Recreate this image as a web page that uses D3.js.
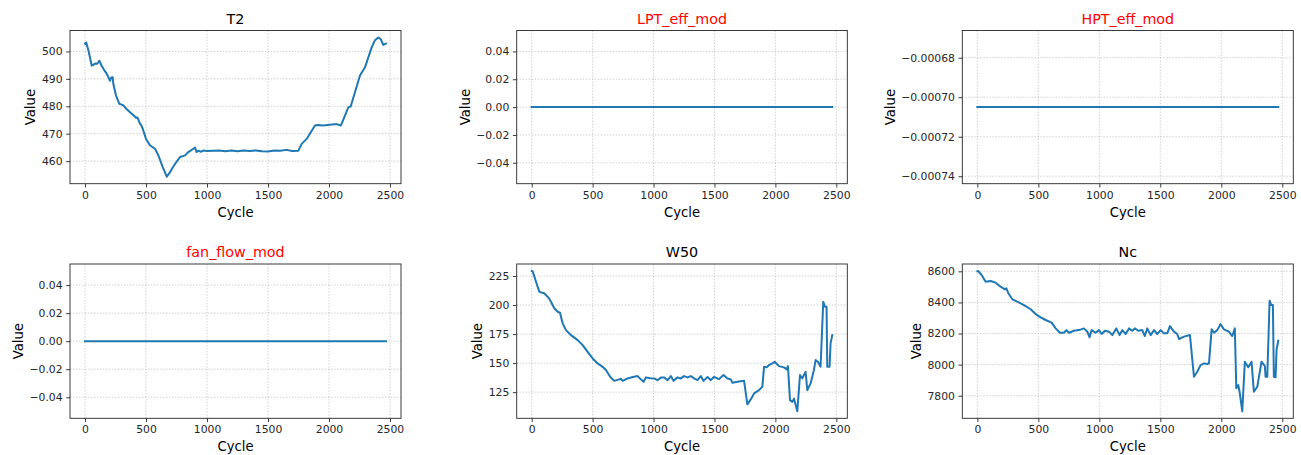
<!DOCTYPE html>
<html>
<head>
<meta charset="utf-8">
<script src="https://cdn.jsdelivr.net/npm/d3@7"></script>
<style>
  html, body { margin: 0; padding: 0; background: #ffffff; }
  svg { display: block; }
  text { font-family: "DejaVu Sans", sans-serif; }
</style>
</head>
<body>
<script>
// ---------------- DATA ----------------
const xTicks = [0, 500, 1000, 1500, 2000, 2500];

const t2Cycle = [0,10,30,55,70,82,100,117,136,160,178,205,215,227,232,254,281,300,314,340,369,395,418,430,451,460,473,500,533,574,601,637,670,697,738,779,820,847,888,902,915,929,950,970,1000,1100,1150,1200,1250,1300,1350,1400,1450,1500,1550,1600,1650,1700,1749,1776,1817,1885,1912,1950,2008,2063,2098,2131,2158,2178,2213,2254,2295,2322,2350,2377,2404,2424,2445,2467];
const t2Value = [502.9,503.2,500,494.8,495.2,495.6,495.5,496.6,494.8,493,491.8,489.3,490.5,490.6,488.1,483.9,480.9,480.6,480.3,479,477.8,476.8,475.8,475.9,473.6,473.2,471.8,468.1,465.7,464.5,462.1,457.8,454.3,456,459,461.5,462.1,463.3,464.5,464.9,463.3,463.8,463.4,463.9,463.7,463.9,463.6,463.9,463.6,463.9,463.7,463.9,463.6,463.5,463.9,463.8,464.1,463.7,463.8,466.3,468.1,473,473.2,473,473.3,473.5,473,476.6,479.6,479.9,485.1,491.2,494.2,497.8,501.5,504.1,505.1,504.5,502.4,502.9];
const t2Ticks = [460, 470, 480, 490, 500];

const flatCycle = [0, 2467];
const lptValue = [0, 0];
const hptValue = [-0.000705, -0.000705];
const fanValue = [0, 0];
const smallTicks = [-0.04, -0.02, 0, 0.02, 0.04];
const hptTicks = [-0.00074, -0.00072, -0.00070, -0.00068];

const w50Cycle = [0,8,35,62,80,103,117,140,158,185,213,232,254,281,322,377,418,459,500,541,582,609,644,677,718,730,746,787,830,869,896,918,937,970,1005,1033,1060,1087,1115,1142,1164,1197,1224,1251,1279,1306,1333,1361,1388,1410,1443,1470,1497,1538,1574,1607,1634,1648,1689,1743,1770,1798,1825,1866,1893,1907,1929,1948,1975,1994,2029,2070,2093,2103,2120,2139,2153,2180,2202,2221,2248,2262,2289,2316,2330,2349,2371,2393,2407,2420,2426,2445,2453,2467];
const w50Value = [229.3,229,220.1,211.5,210.8,210.1,208.6,206,202.8,197.2,194.2,193.4,184.2,178.4,174.1,169.8,165.5,159.7,154,149.7,146.8,144,138.2,134.7,136,136.5,134.7,136.8,138,138.8,136,133.9,137.7,137,136.8,135.3,137.5,137.7,135.3,138.8,134.7,137.7,136.8,138.8,137.7,138.8,136.8,135.3,138.8,134.7,138,135.3,138.2,136.2,139.7,136.8,136,133,133.9,134.7,114.5,118.7,123.9,126.7,129.6,146.8,146.3,148.3,149.7,151.1,147.4,146.3,144.6,147.4,118.1,116.6,119.4,108.5,139.7,136.8,142.5,126.7,132.5,143.9,152.6,151.1,146.8,202.8,198.5,198.5,146.8,146.8,167,174.1];
const w50Ticks = [125, 150, 175, 200, 225];

const ncCycle = [0,8,35,68,109,150,191,226,238,254,287,328,382,437,478,519,560,609,642,677,710,730,751,792,833,874,902,920,937,970,997,1019,1046,1079,1107,1139,1166,1188,1216,1243,1270,1291,1319,1352,1373,1393,1421,1448,1475,1503,1530,1557,1579,1612,1639,1653,1694,1743,1776,1803,1830,1858,1885,1899,1921,1940,1967,1994,2021,2062,2090,2111,2123,2139,2150,2172,2193,2221,2248,2267,2295,2330,2357,2363,2377,2396,2410,2423,2431,2445,2453,2467];
const ncValue = [8600,8602,8576,8533,8538,8527,8501,8484,8491,8459,8420,8405,8383,8356,8325,8304,8287,8270,8233,8205,8205,8222,8205,8218,8222,8233,8212,8176,8222,8205,8222,8197,8218,8212,8190,8233,8190,8222,8197,8233,8218,8233,8218,8222,8184,8233,8190,8222,8197,8222,8201,8201,8248,8212,8197,8165,8180,8190,7922,7954,7997,8008,8004,8008,8227,8205,8222,8261,8227,8212,8184,8233,7848,7869,7826,7700,8019,7983,8019,7826,7858,8019,7991,7922,7922,8411,8383,8383,7922,7918,8094,8154];
const ncTicks = [7800, 8000, 8200, 8400, 8600];

const titles = ["T2", "LPT_eff_mod", "HPT_eff_mod", "fan_flow_mod", "W50", "Nc"];

// ---------------- LAYOUT ----------------
const W = 1301, H = 455;
const colLeft = [70, 516.7, 962.3];
const colWidth = [331, 330.6, 331];
const rowTop = [30.5, 264];
const rowHeight = [153.2, 154.3];

const panels = [
  { title: titles[0], red: false, x: t2Cycle, y: t2Value, ticks: t2Ticks, fmt: d3.format("d") },
  { title: titles[1], red: true, x: flatCycle, y: lptValue, ticks: smallTicks, fmt: d3.format(".2f") },
  { title: titles[2], red: true, x: flatCycle, y: hptValue, ticks: hptTicks, fmt: d3.format(".5f") },
  { title: titles[3], red: true, x: flatCycle, y: fanValue, ticks: smallTicks, fmt: d3.format(".2f") },
  { title: titles[4], red: false, x: w50Cycle, y: w50Value, ticks: w50Ticks, fmt: d3.format("d") },
  { title: titles[5], red: false, x: ncCycle, y: ncValue, ticks: ncTicks, fmt: d3.format("d") },
];

// matplotlib-like autoscale with 5% margins
function autoDomain(vals) {
  let lo = d3.min(vals), hi = d3.max(vals);
  if (lo === hi) {
    const e = lo === 0 ? 0.05 : 0.05 * Math.abs(lo);
    lo -= e; hi += e;
  }
  const pad = (hi - lo) * 0.05;
  return [lo - pad, hi + pad];
}

const svg = d3.select("body").append("svg").attr("width", W).attr("height", H);

const TICK_FS = 10.8, LABEL_FS = 13.2, TITLE_FS = 14.3;
const spineColor = "#262626";

panels.forEach((p, i) => {
  const col = i % 3, row = Math.floor(i / 3);
  const left = colLeft[col], top = rowTop[row], w = colWidth[col], h = rowHeight[row];
  const g = svg.append("g").attr("transform", `translate(${left},${top})`);

  const xs = d3.scaleLinear().domain(autoDomain(p.x)).range([0, w]);
  const ys = d3.scaleLinear().domain(autoDomain(p.y)).range([h, 0]);

  // grid
  g.append("g").selectAll("line").data(xTicks).join("line")
    .attr("x1", d => xs(d)).attr("x2", d => xs(d)).attr("y1", 0).attr("y2", h)
    .attr("stroke", "#b0b0b0").attr("stroke-width", 0.8).attr("stroke-dasharray", "1.5,1.5").attr("opacity", 0.7);
  g.append("g").selectAll("line").data(p.ticks).join("line")
    .attr("y1", d => ys(d)).attr("y2", d => ys(d)).attr("x1", 0).attr("x2", w)
    .attr("stroke", "#b0b0b0").attr("stroke-width", 0.8).attr("stroke-dasharray", "1.5,1.5").attr("opacity", 0.7);

  // x axis
  const xAxis = g.append("g").attr("transform", `translate(0,${h})`)
    .call(d3.axisBottom(xs).tickValues(xTicks).tickFormat(d3.format("d")).tickSize(3.8).tickPadding(3.6));
  xAxis.select(".domain").remove();
  xAxis.selectAll("line").attr("stroke", spineColor).attr("stroke-width", 0.9);
  xAxis.selectAll("text").attr("font-size", TICK_FS).attr("fill", "#262626").attr("font-family", "DejaVu Sans");

  // y axis
  const yAxis = g.append("g")
    .call(d3.axisLeft(ys).tickValues(p.ticks).tickFormat(p.fmt).tickSize(3.8).tickPadding(3.6));
  yAxis.select(".domain").remove();
  yAxis.selectAll("line").attr("stroke", spineColor).attr("stroke-width", 0.9);
  yAxis.selectAll("text").attr("font-size", TICK_FS).attr("fill", "#262626").attr("font-family", "DejaVu Sans");

  // line
  const pts = p.x.map((c, k) => [c, p.y[k]]);
  g.append("path").datum(pts)
    .attr("fill", "none").attr("stroke", "#1f77b4").attr("stroke-width", 2)
    .attr("stroke-linejoin", "round").attr("stroke-linecap", "square")
    .attr("d", d3.line().x(d => xs(d[0])).y(d => ys(d[1])));

  // spines
  g.append("rect").attr("x", 0).attr("y", 0).attr("width", w).attr("height", h)
    .attr("fill", "none").attr("stroke", spineColor).attr("stroke-width", 0.9);

  // title
  g.append("text").attr("x", w / 2).attr("y", -6.6).attr("text-anchor", "middle")
    .attr("font-size", TITLE_FS).attr("fill", p.red ? "#ff0000" : "#000000").text(p.title);

  // x label
  g.append("text").attr("x", w / 2).attr("y", h + 32.8).attr("text-anchor", "middle")
    .attr("font-size", LABEL_FS).attr("fill", "#000").text("Cycle");

  // y label
  const bb = yAxis.node().getBBox();
  const lx = bb.x - 6.5;
  g.append("text").attr("transform", `translate(${lx},${h / 2}) rotate(-90)`)
    .attr("text-anchor", "middle").attr("font-size", LABEL_FS).attr("fill", "#000").text("Value");
});
</script>
</body>
</html>
